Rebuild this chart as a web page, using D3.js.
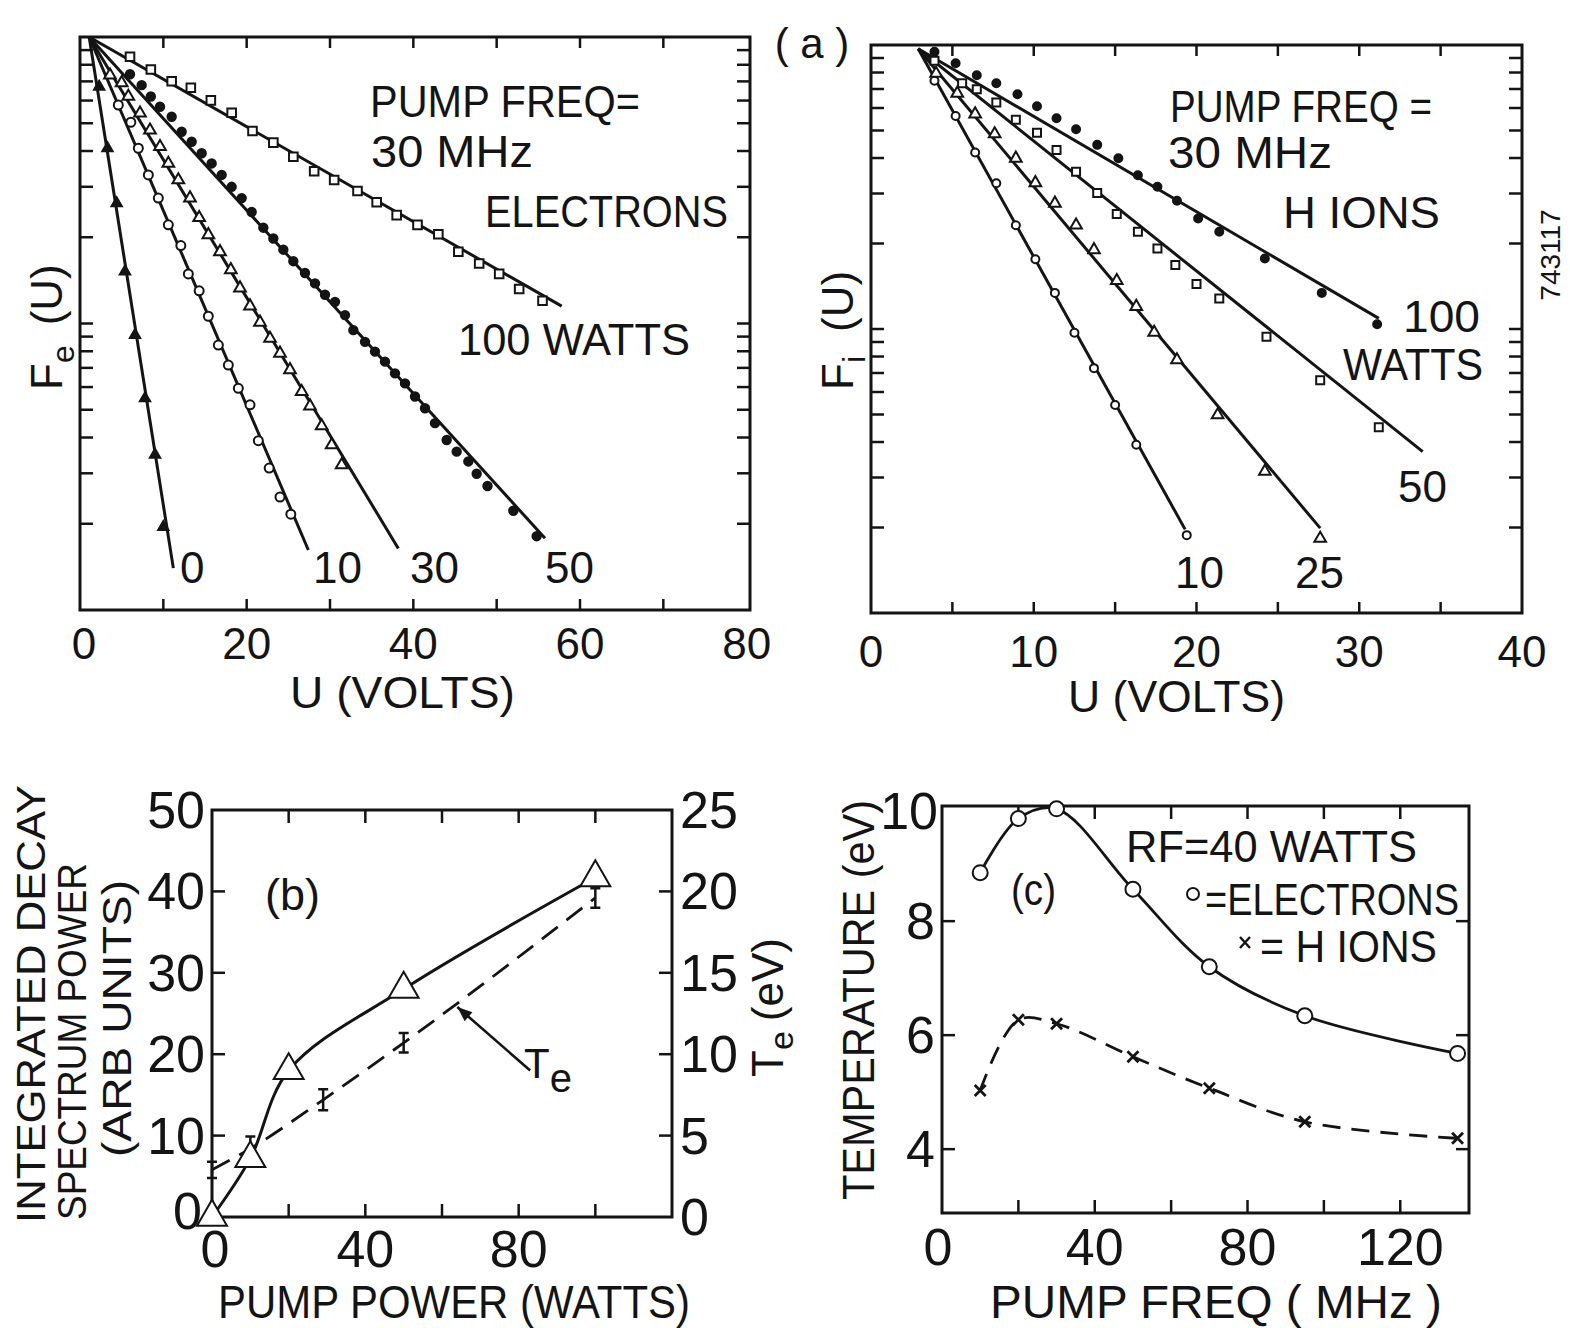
<!DOCTYPE html>
<html>
<head>
<meta charset="utf-8">
<script src="https://cdn.jsdelivr.net/npm/d3@7"></script>
<style>
  body { margin: 0; background: #fff; }
  svg { display: block; font-family: "Liberation Sans", Arial, sans-serif; }
</style>
</head>
<body>
<svg class="canvas" width="1570" height="1328"></svg>
<script>
// ---------- panel (a) left: electrons, F_e(U) on log axis ----------
const elecPowers = ["0", "10", "30", "50", "100"];
const elecU0 = [2.3, 3.3, 4.4, 5.4, 6.6, 7.8, 9.0, 10.0];
const elecF0 = [0.671, 0.409, 0.263, 0.152, 0.0912, 0.0548, 0.0348, 0.0195];
const elecU10 = [4.6, 6.1, 7.0, 8.2, 9.4, 10.6, 12.1, 13.0, 14.3, 15.4, 16.6, 17.8, 19.0, 20.4, 21.4, 22.7, 24.0, 25.3];
const elecF10 = [0.579, 0.504, 0.409, 0.330, 0.274, 0.221, 0.187, 0.149, 0.130, 0.106, 0.0841, 0.0716, 0.0594, 0.0520, 0.0390, 0.0313, 0.0248, 0.0216];
const elecU30 = [3.6, 5.0, 5.8, 7.2, 8.4, 9.6, 10.6, 11.8, 13.2, 14.3, 15.4, 16.8, 18.1, 19.2, 20.4, 21.6, 22.8, 24.0, 25.2, 26.6, 27.6, 29.0, 30.2, 31.4];
const elecF30 = [0.736, 0.692, 0.620, 0.542, 0.473, 0.414, 0.362, 0.317, 0.274, 0.234, 0.204, 0.178, 0.154, 0.133, 0.115, 0.101, 0.0887, 0.0787, 0.0689, 0.0578, 0.0515, 0.0439, 0.0377, 0.0321];
const elecU50 = [6.0, 7.4, 8.5, 9.6, 11.0, 12.2, 13.4, 14.6, 15.8, 17.0, 18.2, 19.4, 20.6, 22.0, 23.2, 24.4, 25.6, 27.0, 28.2, 29.4, 30.6, 31.8, 32.8, 34.2, 35.4, 36.6, 37.8, 39.0, 40.2, 41.4, 42.6, 44.0, 45.2, 46.6, 47.6, 48.9, 52.0, 54.8];
const elecF50 = [0.741, 0.679, 0.620, 0.571, 0.527, 0.467, 0.431, 0.393, 0.362, 0.330, 0.300, 0.274, 0.245, 0.216, 0.198, 0.181, 0.165, 0.150, 0.138, 0.126, 0.119, 0.107, 0.0948, 0.0863, 0.0798, 0.0736, 0.0670, 0.0618, 0.0556, 0.0506, 0.0449, 0.0392, 0.0357, 0.0330, 0.0299, 0.0271, 0.0222, 0.0181];
const elecU100 = [6.0, 8.5, 11.0, 13.3, 15.7, 18.2, 20.7, 23.2, 25.6, 28.1, 30.5, 33.3, 35.6, 38.0, 40.5, 43.0, 45.4, 47.9, 50.3, 52.7, 55.5];
const elecF100 = [0.853, 0.770, 0.701, 0.665, 0.601, 0.544, 0.470, 0.428, 0.382, 0.340, 0.317, 0.290, 0.265, 0.239, 0.221, 0.205, 0.178, 0.162, 0.149, 0.132, 0.120];
const elecFitStart = [1.1, 1.0];
const elecFitEndU = [11.2, 27.4, 38.2, 55.8, 57.8];
const elecFitEndF = [0.014, 0.0162, 0.0164, 0.0178, 0.115];

// ---------- panel (a) right: H ions, F_i(U) ----------
const ionPowers = ["10", "25", "50", "100"];
const ionU10 = [3.9, 5.2, 6.4, 7.7, 8.9, 10.1, 11.3, 12.5, 13.7, 15.0, 16.3, 19.4];
const ionF10 = [0.748, 0.562, 0.418, 0.326, 0.232, 0.176, 0.134, 0.0970, 0.0728, 0.0540, 0.0391, 0.0188];
const ionU25 = [4.0, 5.3, 6.4, 7.6, 8.9, 10.1, 11.3, 12.6, 13.7, 15.1, 16.3, 17.4, 18.8, 21.3, 24.2, 27.6];
const ionF25 = [0.794, 0.676, 0.571, 0.486, 0.399, 0.327, 0.277, 0.232, 0.190, 0.148, 0.120, 0.0973, 0.0778, 0.0498, 0.0315, 0.0183];
const ionU50 = [3.9, 5.6, 6.5, 7.7, 8.9, 10.2, 11.4, 12.6, 13.9, 15.1, 16.4, 17.6, 18.7, 20.0, 21.4, 24.3, 27.6, 31.2];
const ionF50 = [0.881, 0.733, 0.698, 0.627, 0.545, 0.491, 0.427, 0.358, 0.301, 0.254, 0.220, 0.192, 0.168, 0.144, 0.128, 0.094, 0.066, 0.0451];
const ionU100 = [3.9, 5.2, 6.5, 7.7, 9.0, 10.2, 11.4, 12.6, 13.9, 15.2, 16.4, 17.6, 18.8, 20.1, 21.4, 24.2, 27.7, 31.1];
const ionF100 = [0.946, 0.863, 0.783, 0.733, 0.671, 0.609, 0.552, 0.505, 0.445, 0.399, 0.348, 0.317, 0.283, 0.245, 0.220, 0.177, 0.134, 0.104];
const ionFitStart = [2.9, 0.97];
const ionFitEndU = [19.3, 27.6, 33.9, 31.2];
const ionFitEndF = [0.0197, 0.0199, 0.037, 0.109];

// ---------- panel (b) ----------
const powerW = [0, 10, 20, 50, 100];
const decayPower = [0, 7.2, 18, 28, 41.7];
const tePowerW = [0, 10, 29, 50, 100];
const teValue = [2.9, 4.2, 7.2, 10.7, 19.6];
const teErr = [0.5, 0.75, 0.65, 0.6, 0.6];

// ---------- panel (c) ----------
const freqMHz = [10, 20, 30, 50, 70, 95, 135];
const tempElec = [8.85, 9.8, 9.97, 8.56, 7.2, 6.34, 5.68];
const tempIon = [5.03, 6.27, 6.2, 5.62, 5.07, 4.48, 4.19];

const svg = d3.select(".canvas");
const ink = "#141414";
svg.append("rect").attr("width", 1570).attr("height", 1328).attr("fill", "#fff");

function addText(x, y, str, size, o = {}) {
  const t = svg.append("text")
    .attr("x", x).attr("y", y)
    .attr("font-size", size)
    .attr("fill", ink)
    .attr("text-anchor", o.anchor || "start")
    .text(str);
  if (o.len) t.attr("textLength", o.len).attr("lengthAdjust", "spacingAndGlyphs");
  return t;
}

function addVText(x, y, str, size, o = {}) {
  const t = svg.append("text")
    .attr("transform", `translate(${x},${y}) rotate(-90)`)
    .attr("font-size", size)
    .attr("fill", ink)
    .attr("text-anchor", o.anchor || "start")
    .text(str);
  if (o.len) t.attr("textLength", o.len).attr("lengthAdjust", "spacingAndGlyphs");
  return t;
}

function frame(x, y) {
  const [x0, x1] = x.range();
  const [y0, y1] = y.range();
  svg.append("rect")
    .attr("x", x0).attr("y", y1)
    .attr("width", x1 - x0).attr("height", y0 - y1)
    .attr("fill", "none").attr("stroke", ink).attr("stroke-width", 3);
}

function ticksX(x, y, vals, len) {
  const [yb, yt] = y.range();
  vals.forEach((v) => {
    svg.append("line").attr("x1", x(v)).attr("x2", x(v)).attr("y1", yb).attr("y2", yb - len)
      .attr("stroke", ink).attr("stroke-width", 2.5);
    svg.append("line").attr("x1", x(v)).attr("x2", x(v)).attr("y1", yt).attr("y2", yt + len)
      .attr("stroke", ink).attr("stroke-width", 2.5);
  });
}

function ticksY(x, y, vals, len) {
  const [xl, xr] = x.range();
  vals.forEach((v) => {
    svg.append("line").attr("x1", xl).attr("x2", xl + len).attr("y1", y(v)).attr("y2", y(v))
      .attr("stroke", ink).attr("stroke-width", 2.5);
    svg.append("line").attr("x1", xr).attr("x2", xr - len).attr("y1", y(v)).attr("y2", y(v))
      .attr("stroke", ink).attr("stroke-width", 2.5);
  });
}

function marks(pts, kind, size) {
  const g = svg.append("g");
  pts.forEach(([px, py]) => {
    if (kind === "circle" || kind === "dot") {
      g.append("circle").attr("cx", px).attr("cy", py).attr("r", size)
        .attr("fill", kind === "dot" ? ink : "#fff")
        .attr("stroke", ink).attr("stroke-width", 2);
    } else if (kind === "cross") {
      g.append("path")
        .attr("d", `M${px - size},${py - size}L${px + size},${py + size}M${px - size},${py + size}L${px + size},${py - size}`)
        .attr("stroke", ink).attr("stroke-width", 2.8);
    } else {
      const sym = kind === "square" ? d3.symbolSquare : d3.symbolTriangle;
      const area = kind === "square" ? size * size * 4 : size * size * 3.2;
      g.append("path")
        .attr("d", d3.symbol(sym, area)())
        .attr("transform", `translate(${px},${py})`)
        .attr("fill", kind === "triFill" ? ink : "#fff")
        .attr("stroke", ink).attr("stroke-width", 2);
    }
  });
}

const straight = (x, y) => d3.line().x((d) => x(d[0])).y((d) => y(d[1]));

// ================= (a) left =================
const xE = d3.scaleLinear().domain([0, 80.4]).range([80, 750]);
const yE = d3.scaleLog().domain([0.01, 1]).range([610, 37]);
const logTicks = yE.ticks().filter((v) => v > 0.0101 && v < 0.99);

frame(xE, yE);
ticksX(xE, yE, d3.range(10, 80, 10), 11);
ticksY(xE, yE, logTicks, 13);

const elecSeries = [
  { u: elecU0, f: elecF0, kind: "triFill", size: 3.8 },
  { u: elecU10, f: elecF10, kind: "circle", size: 4.5 },
  { u: elecU30, f: elecF30, kind: "tri", size: 4.3 },
  { u: elecU50, f: elecF50, kind: "dot", size: 4.2 },
  { u: elecU100, f: elecF100, kind: "square", size: 4.3 },
];
elecSeries.forEach((s, i) => {
  svg.append("path")
    .attr("d", straight(xE, yE)([elecFitStart, [elecFitEndU[i], elecFitEndF[i]]]))
    .attr("fill", "none").attr("stroke", ink).attr("stroke-width", 3);
});
elecSeries.forEach((s) => {
  marks(s.u.map((u, j) => [xE(u), yE(s.f[j])]), s.kind, s.size);
});

[0, 20, 40, 60, 80].forEach((v) => addText(xE(v) + (v === 0 ? 4 : 0), 659, String(v), 44, { anchor: "middle" }));
addText(290, 708, "U (VOLTS)", 44, { len: 225 });
const fe = svg.append("text")
  .attr("transform", "translate(62,390) rotate(-90)")
  .attr("font-size", 44).attr("fill", ink);
fe.append("tspan").text("F");
fe.append("tspan").attr("dy", 12).attr("font-size", 32).text("e");
fe.append("tspan").attr("dy", -12).attr("dx", 20).text("(U)");

addText(370, 117, "PUMP FREQ=", 44, { len: 270 });
addText(371, 167, "30 MHz", 44, { len: 162 });
addText(485, 227, "ELECTRONS", 44, { len: 243 });
addText(458, 355, "100 WATTS", 44, { len: 232 });
addText(180, 583, elecPowers[0], 44);
addText(313, 583, elecPowers[1], 44);
addText(410, 583, elecPowers[2], 44);
addText(545, 583, elecPowers[3], 44);

addText(812, 58, "( a )", 42, { anchor: "middle" });

// ================= (a) right =================
const xI = d3.scaleLinear().domain([0, 40]).range([871, 1522]);
const yI = d3.scaleLog().domain([0.01, 1]).range([613, 45]);

frame(xI, yI);
ticksX(xI, yI, d3.range(5, 40, 5), 11);
ticksY(xI, yI, logTicks, 13);

const ionSeries = [
  { u: ionU10, f: ionF10, kind: "circle", size: 4 },
  { u: ionU25, f: ionF25, kind: "tri", size: 4.3 },
  { u: ionU50, f: ionF50, kind: "square", size: 4 },
  { u: ionU100, f: ionF100, kind: "dot", size: 4 },
];
ionSeries.forEach((s, i) => {
  svg.append("path")
    .attr("d", straight(xI, yI)([ionFitStart, [ionFitEndU[i], ionFitEndF[i]]]))
    .attr("fill", "none").attr("stroke", ink).attr("stroke-width", 3);
});
ionSeries.forEach((s) => {
  marks(s.u.map((u, j) => [xI(u), yI(s.f[j])]), s.kind, s.size);
});

[0, 10, 20, 30, 40].forEach((v) => addText(xI(v), 667, String(v), 44, { anchor: "middle" }));
addText(1068, 712, "U (VOLTS)", 44, { len: 217 });
const fi = svg.append("text")
  .attr("transform", "translate(853,390) rotate(-90)")
  .attr("font-size", 44).attr("fill", ink);
fi.append("tspan").text("F");
fi.append("tspan").attr("dy", 12).attr("font-size", 32).text("i");
fi.append("tspan").attr("dy", -12).attr("dx", 24).text("(U)");

addText(1170, 122, "PUMP FREQ =", 44, { len: 262 });
addText(1168, 168, "30 MHz", 44, { len: 164 });
addText(1283, 228, "H IONS", 44, { len: 157 });
addText(1403, 332, ionPowers[3], 44, { len: 77 });
addText(1343, 380, "WATTS", 44, { len: 140 });
addText(1398, 502, ionPowers[2], 44);
addText(1175, 588, ionPowers[0], 44);
addText(1295, 588, ionPowers[1], 44);

addVText(1560, 255, "743117", 28, { anchor: "middle" });

// ================= (b) =================
const xB = d3.scaleLinear().domain([0, 120]).range([212, 672]);
const yB = d3.scaleLinear().domain([0, 50]).range([1217, 810]);
const yBT = d3.scaleLinear().domain([0, 25]).range([1217, 810]);

frame(xB, yB);
ticksX(xB, yB, d3.range(20, 120, 20), 13);
ticksY(xB, yB, d3.range(10, 50, 10), 13);

svg.append("path")
  .datum(powerW.map((p, i) => [p, decayPower[i]]))
  .attr("d", d3.line().x((d) => xB(d[0])).y((d) => yB(d[1])).curve(d3.curveCatmullRom.alpha(0.5)))
  .attr("fill", "none").attr("stroke", ink).attr("stroke-width", 3);

svg.append("path")
  .datum(tePowerW.map((p, i) => [p, teValue[i]]))
  .attr("d", d3.line().x((d) => xB(d[0])).y((d) => yBT(d[1])).curve(d3.curveMonotoneX))
  .attr("fill", "none").attr("stroke", ink).attr("stroke-width", 2.8)
  .attr("stroke-dasharray", "20,11");

tePowerW.forEach((p, i) => {
  const cx = xB(p);
  const t = yBT(teValue[i] + teErr[i]);
  const b = yBT(teValue[i] - teErr[i]);
  svg.append("path")
    .attr("d", `M${cx},${t}V${b}M${cx - 5},${t}H${cx + 5}M${cx - 5},${b}H${cx + 5}`)
    .attr("fill", "none").attr("stroke", ink).attr("stroke-width", 2.5);
});

marks(powerW.map((p, i) => [xB(p), yB(decayPower[i])]), "tri", 11);

// arrow to T_e curve
const tip = [xB(64), yBT(12.9)];
const tail = [xB(83), yBT(9.0)];
svg.append("line")
  .attr("x1", tail[0]).attr("y1", tail[1]).attr("x2", tip[0]).attr("y2", tip[1])
  .attr("stroke", ink).attr("stroke-width", 2.6);
const ang = Math.atan2(tail[1] - tip[1], tail[0] - tip[0]);
const ah = 16, aw = 0.38;
svg.append("path")
  .attr("d", `M${tip[0]},${tip[1]}L${tip[0] + ah * Math.cos(ang + aw)},${tip[1] + ah * Math.sin(ang + aw)}L${tip[0] + ah * Math.cos(ang - aw)},${tip[1] + ah * Math.sin(ang - aw)}Z`)
  .attr("fill", ink);
const teLab = svg.append("text").attr("x", 524).attr("y", 1078).attr("font-size", 42).attr("fill", ink);
teLab.append("tspan").text("T");
teLab.append("tspan").attr("dy", 14).attr("font-size", 40).text("e");

[0, 10, 20, 30, 40, 50].forEach((v) => addText(v === 0 ? 202 : 205, yB(v) + (v === 0 ? 12 : 18), String(v), 52, { anchor: "end" }));
[0, 5, 10, 15, 20, 25].forEach((v) => addText(680, yBT(v) + 18, String(v), 52));
[0, 40, 80].forEach((v) => addText(xB(v) + (v === 0 ? 3 : 0), 1267, String(v), 52, { anchor: "middle" }));
addText(218, 1318, "PUMP POWER (WATTS)", 46, { len: 472 });
addText(265, 910, "(b)", 44, { len: 55 });

addVText(45, 1223, "INTEGRATED DECAY", 40, { len: 438 });
addVText(86, 1220, "SPECTRUM POWER", 40, { len: 357 });
addVText(131, 1157, "(ARB UNITS)", 40, { len: 277 });

const teAx = svg.append("text")
  .attr("transform", "translate(783,1077) rotate(-90)")
  .attr("font-size", 44).attr("fill", ink);
teAx.append("tspan").text("T");
teAx.append("tspan").attr("dy", 10).attr("font-size", 34).text("e");
teAx.append("tspan").attr("dy", -10).attr("dx", 10).text("(eV)");

// ================= (c) =================
const xC = d3.scaleLinear().domain([0, 138]).range([942, 1469]);
const yC = d3.scaleLinear().domain([2.88, 10.02]).range([1213, 806]);

frame(xC, yC);
ticksX(xC, yC, d3.range(20, 140, 20), 13);
ticksY(xC, yC, [4, 6, 8], 13);

svg.append("path")
  .datum(freqMHz.map((f, i) => [f, tempElec[i]]))
  .attr("d", d3.line().x((d) => xC(d[0])).y((d) => yC(d[1])).curve(d3.curveCatmullRom.alpha(0.5)))
  .attr("fill", "none").attr("stroke", ink).attr("stroke-width", 2.8);
svg.append("path")
  .datum(freqMHz.map((f, i) => [f, tempIon[i]]))
  .attr("d", d3.line().x((d) => xC(d[0])).y((d) => yC(d[1])).curve(d3.curveCatmullRom.alpha(0.5)))
  .attr("fill", "none").attr("stroke", ink).attr("stroke-width", 2.8)
  .attr("stroke-dasharray", "18,11");

marks(freqMHz.map((f, i) => [xC(f), yC(tempElec[i])]), "circle", 7.5);
marks(freqMHz.map((f, i) => [xC(f), yC(tempIon[i])]), "cross", 5.5);

[4, 6, 8, 10].forEach((v) => addText(v === 10 ? 938 : 935, yC(v) + (v === 10 ? 22 : 18), String(v), 52, { anchor: "end" }));
[0, 40, 80, 120].forEach((v) => addText(xC(v) - (v === 0 ? 4 : 0), 1265, String(v), 52, { anchor: "middle" }));
addText(990, 1318, "PUMP FREQ ( MHz )", 46, { len: 452 });
addVText(874, 1000, "TEMPERATURE (eV)", 44, { anchor: "middle", len: 400 });

addText(1126, 862, "RF=40 WATTS", 44, { len: 291 });
addText(1011, 905, "(c)", 44, { len: 45 });
svg.append("circle").attr("cx", 1193).attr("cy", 894).attr("r", 6)
  .attr("fill", "none").attr("stroke", ink).attr("stroke-width", 2);
addText(1205, 915, "=ELECTRONS", 44, { len: 254 });
svg.append("path").attr("d", "M1240,937L1250,948M1240,948L1250,937")
  .attr("stroke", ink).attr("stroke-width", 2.4);
addText(1260, 962, "= H IONS", 44, { len: 177 });
</script>
</body>
</html>
